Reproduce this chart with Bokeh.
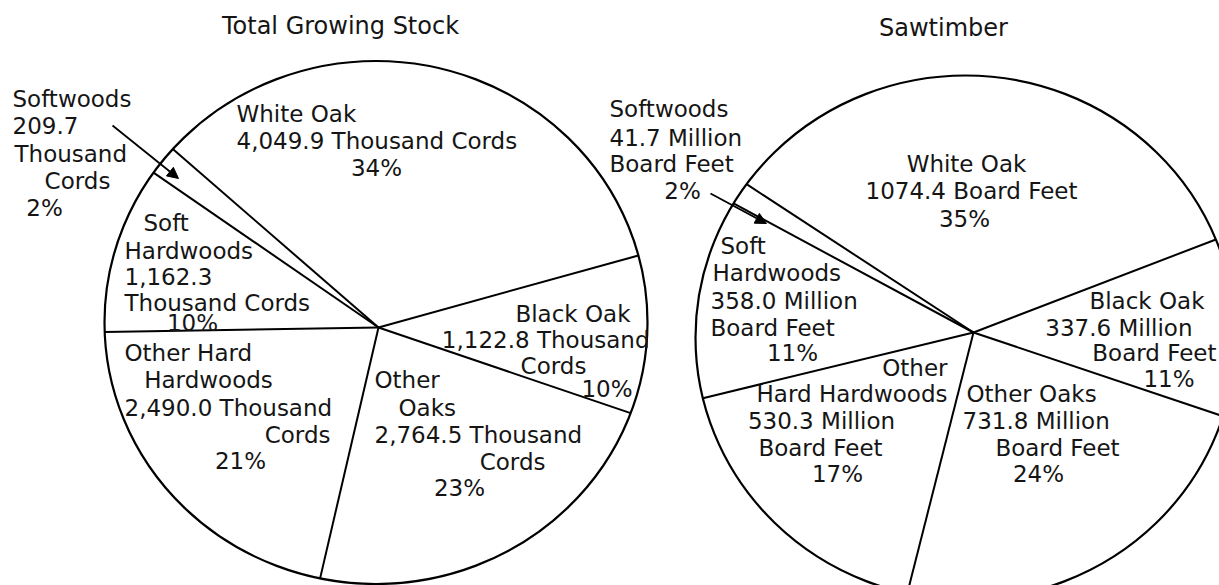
import math
from bokeh.plotting import figure
from bokeh.models import Range1d, Arrow, NormalHead, ColumnDataSource
from bokeh.embed import file_html
from bokeh.resources import INLINE
from bokeh.core.properties import value

# ---------------- data (slices listed clockwise, starting at Black Oak) ----------------
categories = ["Black Oak", "Other Oaks", "Other Hard Hardwoods", "Soft Hardwoods", "Softwoods", "White Oak"]
growing_stock = [1122.8, 2764.5, 2490.0, 1162.3, 209.7, 4049.9]      # thousand cords
growing_pct = [10, 23, 21, 10, 2, 34]
sawtimber = [337.6, 731.8, 530.3, 358.0, 41.7, 1074.4]               # million board feet
sawtimber_pct = [11, 24, 17, 11, 2, 35]
titles = ["Total Growing Stock", "Sawtimber"]

# ---------------- layout (reference pixel coordinates, y downwards) ----------------
W, H = 1219, 585
def Y(y):
    return H - y

FONT = value("DejaVu Sans")
FS = "23px"
TFS = "24px"
INK = "#151515"

left_labels = {
    "Softwoods": [("Softwoods", 12, 98, "left"), ("{v}", 12, 125, "left"), ("Thousand", 14, 153, "left"),
                  ("Cords", 77, 180, "center"), ("{p}%", 44, 207, "center")],
    "White Oak": [("White Oak", 236, 113, "left"), ("{v} Thousand Cords", 236, 140, "left"),
                  ("{p}%", 376, 167, "center")],
    "Soft Hardwoods": [("Soft", 143, 222, "left"), ("Hardwoods", 124, 250, "left"), ("{v}", 124, 276, "left"),
                       ("Thousand Cords", 124, 302, "left"), ("{p}%", 192, 322, "center")],
    "Other Hard Hardwoods": [("Other Hard", 124, 352, "left"), ("Hardwoods", 208, 379, "center"),
                             ("{v} Thousand", 124, 407, "left"), ("Cords", 330, 434, "right"),
                             ("{p}%", 240, 460, "center")],
    "Other Oaks": [("Other", 374, 379, "left"), ("Oaks", 398, 407, "left"), ("{v} Thousand", 374, 434, "left"),
                   ("Cords", 545, 461, "right"), ("{p}%", 459, 487, "center")],
    "Black Oak": [("Black Oak", 630, 313, "right"), ("{v} Thousand", 649, 339, "right"),
                  ("Cords", 553, 365, "center"), ("{p}%", 632, 388, "right")],
}

right_labels = {
    "Softwoods": [("Softwoods", 609, 108, "left"), ("{v} Million", 609, 137, "left"),
                  ("Board Feet", 609, 163, "left"), ("{p}%", 682, 190, "center")],
    "White Oak": [("White Oak", 966, 163, "center"), ("{v} Board Feet", 971, 190, "center"),
                  ("{p}%", 964, 218, "center")],
    "Soft Hardwoods": [("Soft", 720, 245, "left"), ("Hardwoods", 712, 272, "left"),
                       ("{v} Million", 710, 300, "left"), ("Board Feet", 710, 327, "left"),
                       ("{p}%", 792, 352, "center")],
    "Black Oak": [("Black Oak", 1204, 300, "right"), ("{v} Million", 1192, 327, "right"),
                  ("Board Feet", 1216, 352, "right"), ("{p}%", 1194, 378, "right")],
    "Other Hard Hardwoods": [("Other", 947, 367, "right"), ("Hard Hardwoods", 947, 393, "right"),
                             ("{v} Million", 821, 420, "center"), ("Board Feet", 820, 447, "center"),
                             ("{p}%", 837, 473, "center")],
    "Other Oaks": [("Other Oaks", 966, 393, "left"), ("{v} Million", 962, 420, "left"),
                   ("Board Feet", 1057, 447, "center"), ("{p}%", 1038, 473, "center")],
}

pies = [
    dict(values=growing_stock, pcts=growing_pct, fmt="{:,.1f}", labels=left_labels,
         cx=375.5, cy=322, rx=271.5, ry=261.5, hx=378, hy=327, start=15.5,
         title_xy=(340, 25), arrow=(112, 125, 178, 178)),
    dict(values=sawtimber, pcts=sawtimber_pct, fmt="{:.1f}", labels=right_labels,
         cx=965, cy=337, rx=270, ry=262, hx=973, hy=332, start=21,
         title_xy=(943, 27), arrow=(710, 193, 766, 223)),
]

p = figure(width=W, height=H, x_range=Range1d(0, W), y_range=Range1d(0, H),
           output_backend="svg", toolbar_location=None, min_border=0,
           x_axis_location=None, y_axis_location=None)
p.grid.visible = False
p.outline_line_color = None
p.background_fill_color = "white"
p.border_fill_color = "white"


def ray_to_ellipse(hx, hy, ang, cx, cy, rx, ry):
    dx, dy = math.cos(math.radians(ang)), math.sin(math.radians(ang))
    ox, oy = hx - cx, hy - cy
    a = (dx / rx) ** 2 + (dy / ry) ** 2
    b = 2 * (ox * dx / rx ** 2 + oy * dy / ry ** 2)
    c = (ox / rx) ** 2 + (oy / ry) ** 2 - 1
    t = (-b + math.sqrt(b * b - 4 * a * c)) / (2 * a)
    return hx + t * dx, hy + t * dy


texts = {"left": dict(x=[], y=[], t=[]), "center": dict(x=[], y=[], t=[]), "right": dict(x=[], y=[], t=[])}
title_src = dict(x=[], y=[], t=[])

for pie, title in zip(pies, titles):
    cx, cy = pie["cx"], Y(pie["cy"])
    hx, hy = pie["hx"], Y(pie["hy"])
    # outline
    p.ellipse(x=[cx], y=[cy], width=[2 * pie["rx"]], height=[2 * pie["ry"]],
              fill_color=None, line_color="black", line_width=2.2)
    # slice boundaries from the data
    total = sum(pie["values"])
    ang = pie["start"]
    angles = [ang]
    for v in pie["values"]:
        ang -= 360.0 * v / total
        angles.append(ang)
    x0, y0, x1, y1 = [], [], [], []
    for a in angles[:-1]:
        ex, ey = ray_to_ellipse(hx, hy, a, cx, cy, pie["rx"], pie["ry"])
        x0.append(hx); y0.append(hy); x1.append(ex); y1.append(ey)
    p.segment(x0=x0, y0=y0, x1=x1, y1=y1, line_color="black", line_width=2)

    # labels
    for cat, v, pc in zip(categories, pie["values"], pie["pcts"]):
        vs = pie["fmt"].format(v)
        for tmpl, lx, ly, al in pie["labels"][cat]:
            texts[al]["x"].append(lx)
            texts[al]["y"].append(Y(ly))
            texts[al]["t"].append(tmpl.format(v=vs, p=pc))
    tx, ty = pie["title_xy"]
    title_src["x"].append(tx)
    title_src["y"].append(Y(ty))
    title_src["t"].append(title)

    ax0, ay0, ax1, ay1 = pie["arrow"]
    p.add_layout(Arrow(end=NormalHead(size=11, fill_color="black", line_color="black", line_width=1),
                       x_start=ax0, y_start=Y(ay0), x_end=ax1, y_end=Y(ay1),
                       line_color="black", line_width=1.8))

for al, d in texts.items():
    src = ColumnDataSource(dict(x=d["x"], y=d["y"], text=d["t"]))
    p.text(x="x", y="y", text="text", source=src, text_align=al, text_baseline="middle",
           text_font=FONT, text_font_size=FS, text_color=INK)

p.text(x="x", y="y", text="text",
       source=ColumnDataSource(dict(x=title_src["x"], y=title_src["y"], text=title_src["t"])),
       text_align="center", text_baseline="middle", text_font=FONT, text_font_size=TFS, text_color=INK)

open("out.html", "w").write(file_html(p, INLINE))
